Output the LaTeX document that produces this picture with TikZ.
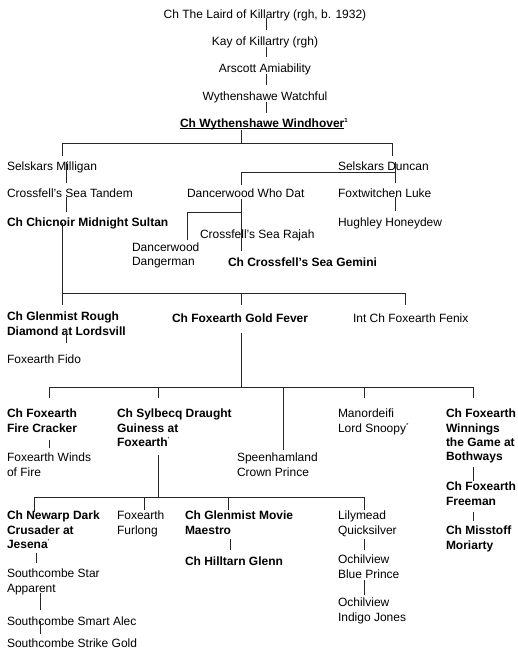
\documentclass[tikz,border=0pt]{standalone}
\usepackage{fontspec}
\setmainfont{Liberation Sans}
\newcommand\fsz{\fontsize{12}{14.3}\selectfont}
\newcommand\myul[1]{\setbox0\hbox{#1}\rlap{\rule[-1.6pt]{\wd0}{0.7pt}}\box0}
\newcommand\supmark[1]{\raisebox{4.5pt}{\fontsize{6}{6}\selectfont #1}}
\begin{document}
\begin{tikzpicture}[x=1pt,y=-1pt,
  lbl/.style={anchor=north west,inner sep=0pt,outer sep=0pt,align=left,font=\fsz,execute at begin node=\strut},
  blbl/.style={lbl,font=\fsz\bfseries},
  conn/.style={line width=0.85pt,draw=black!85}]
\useasboundingbox (0,0) rectangle (518,651);

% ---- nodes ----
\node[lbl,anchor=north] (laird) at (265,8) {Ch The Laird of Killartry (rgh, b. 1932)};
\node[lbl,anchor=north] (kay) at (265,35) {Kay of Killartry (rgh)};
\node[lbl,anchor=north] (arscott) at (265,62) {Arscott Amiability};
\node[lbl,anchor=north] (watchful) at (265,90) {Wythenshawe Watchful};
\node[blbl] (windhover) at (180,117) {\myul{Ch Wythenshawe Windhover}\supmark{1}};

\node[lbl] (milligan) at (7,160) {Selskars Milligan};
\node[lbl] (duncan) at (338,160) {Selskars Duncan};
\node[lbl] (tandem) at (7,187) {Crossfell's Sea Tandem};
\node[lbl] (whodat) at (187,187) {Dancerwood Who Dat};
\node[lbl] (luke) at (338,187) {Foxtwitchen Luke};
\node[blbl] (sultan) at (7,216) {Ch Chicnoir Midnight Sultan};
\node[lbl] (honeydew) at (338,216) {Hughley Honeydew};
\node[lbl] (rajah) at (200,228) {Crossfell's Sea Rajah};
\node[lbl] (dangerman) at (132,243) {Dancerwood\\Dangerman};
\node[blbl] (gemini) at (228,256) {Ch Crossfell's Sea Gemini};

\node[blbl] (rough) at (7,312) {Ch Glenmist Rough\\Diamond at Lordsvill};
\node[blbl] (goldfever) at (172,312) {Ch Foxearth Gold Fever};
\node[lbl] (fenix) at (353,312) {Int Ch Foxearth Fenix};
\node[lbl] (fido) at (7,353) {Foxearth Fido};

\node[blbl] (firecracker) at (7,409) {Ch Foxearth\\Fire Cracker};
\node[blbl] (sylbecq) at (117,409) {Ch Sylbecq Draught\\Guiness at\\Foxearth\supmark{'}};
\node[lbl] (snoopy) at (338,409) {Manordeifi\\Lord Snoopy\supmark{*}};
\node[blbl] (winnings) at (446,409) {Ch Foxearth\\Winnings\\the Game at\\Bothways};
\node[lbl] (winds) at (7,453) {Foxearth Winds\\of Fire};
\node[lbl] (speenhamland) at (237,453) {Speenhamland\\Crown Prince};
\node[blbl] (freeman) at (446,482) {Ch Foxearth\\Freeman};

\node[blbl] (newarp) at (7,511) {Ch Newarp Dark\\Crusader at\\Jesena\supmark{'}};
\node[lbl] (furlong) at (117,511) {Foxearth\\Furlong};
\node[blbl] (maestro) at (185,511) {Ch Glenmist Movie\\Maestro};
\node[lbl] (lilymead) at (338,511) {Lilymead\\Quicksilver};
\node[blbl] (moriarty) at (446,526) {Ch Misstoff\\Moriarty};
\node[blbl] (hilltarn) at (185,555) {Ch Hilltarn Glenn};
\node[lbl] (blueprince) at (338,555) {Ochilview\\Blue Prince};
\node[lbl] (star) at (7,569) {Southcombe Star\\Apparent};
\node[lbl] (indigo) at (338,598) {Ochilview\\Indigo Jones};
\node[lbl] (smartalec) at (7,615) {Southcombe Smart Alec};
\node[lbl] (strikegold) at (7,637) {Southcombe Strike Gold};

% ---- connectors ----
\draw[conn] (laird.north) ++(1,10) -- ++(0,12);
\draw[conn] (kay.north) ++(1,12) -- ++(0,10);
\draw[conn] (arscott.north) ++(1,12) -- ++(0,11);
\draw[conn] (watchful.north) ++(1,12) -- ++(0,11);

\draw[conn] (windhover.north west) ++(61,13) -- ++(0,13) coordinate (j1);
\draw[conn] (j1) -- ++(-179,0) -- ++(0,13);
\draw[conn] (j1) -- ++(151,0) -- ++(0,13);

\draw[conn] (milligan.north west) ++(59,2) -- ++(0,21);
\draw[conn] (tandem.north west) ++(59,10) -- ++(0,15);

\draw[conn] (duncan.north west) ++(57,2) -- ++(0,21);
\draw[conn] (duncan.north west) ++(57,12) -- ++(-154,0) -- ++(0,13);
\draw[conn] (luke.north west) ++(57,10) -- ++(0,14);

\draw[conn] (whodat.north west) ++(54,12) -- ++(0,52);
\draw[conn] (whodat.north west) ++(54,25) -- ++(-54,0) -- ++(0,28);

\draw[conn] (sultan.north west) ++(55,7) -- ++(0,82);
\draw[conn] (sultan.north west) ++(55,77) -- ++(343,0) -- ++(0,12);
\draw[conn] (sultan.north west) ++(234,77) -- ++(0,12);

\draw[conn] (rough.north west) ++(59,18) -- ++(0,13);

\draw[conn] (goldfever.north west) ++(69,21) -- ++(0,54) coordinate (j3);
\draw[conn] (j3) -- ++(-192,0) -- ++(0,11);
\draw[conn] (j3) ++(-83,0) -- ++(0,11);
\draw[conn] (j3) ++(42,0) -- ++(0,63);
\draw[conn] (j3) ++(123,0) -- ++(0,11);
\draw[conn] (j3) -- ++(232,0) -- ++(0,11);

\draw[conn] (firecracker.north west) ++(42,31) -- ++(0,8);
\draw[conn] (winnings.north west) ++(27,58) -- ++(0,14);
\draw[conn] (freeman.north west) ++(27,30) -- ++(0,9);

\draw[conn] (sylbecq.north west) ++(41,46) -- ++(0,42) coordinate (j4);
\draw[conn] (j4) -- ++(-124,0) -- ++(0,15);
\draw[conn] (j4) ++(-14,0) -- ++(0,13);
\draw[conn] (j4) ++(70,0) -- ++(0,13);
\draw[conn] (j4) -- ++(206,0) -- ++(0,13);

\draw[conn] (newarp.north west) ++(29,42) -- ++(0,10);
\draw[conn] (maestro.north west) ++(45,28) -- ++(0,11);
\draw[conn] (lilymead.north west) ++(26,28) -- ++(0,11);
\draw[conn] (blueprince.north west) ++(26,25) -- ++(0,15);
\draw[conn] (star.north west) ++(33,24) -- ++(0,17);
\draw[conn] (smartalec.north west) ++(33,6) -- ++(0,13);
\end{tikzpicture}
\end{document}
